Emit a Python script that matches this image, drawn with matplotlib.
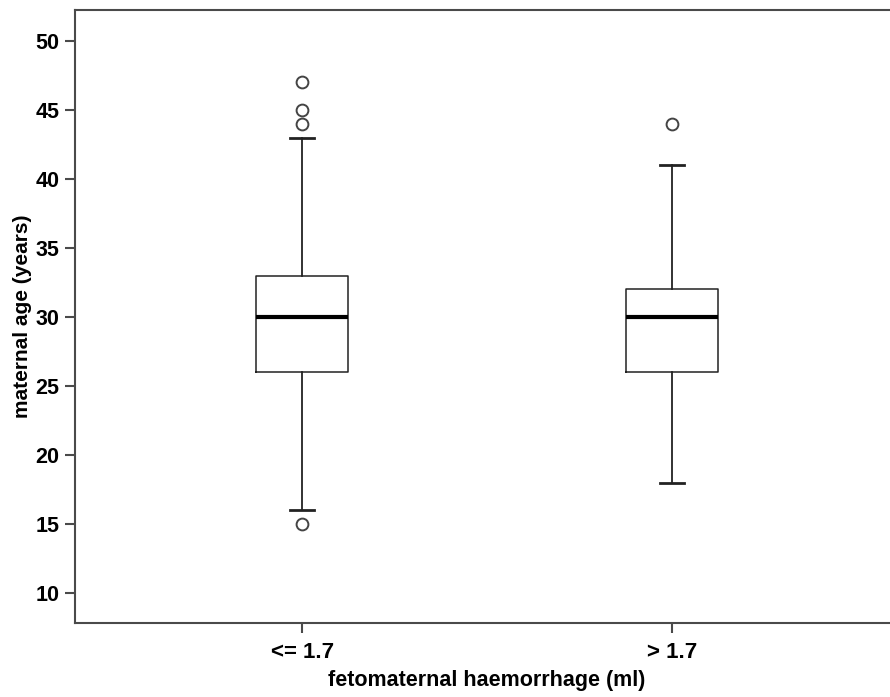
import matplotlib.pyplot as plt

plt.rcParams['font.family'] = ['Liberation Sans', 'DejaVu Sans']
plt.rcParams['font.weight'] = 'bold'

# group summaries: whiskers, quartiles, median, outliers
groups = ['<= 1.7', '> 1.7']
whislo = [16, 18]
q1 = [26, 26]
med = [30, 30]
q3 = [33, 32]
whishi = [43, 41]
fliers = [[44, 45, 47, 15], [44]]

stats = []
for i in range(len(groups)):
    stats.append(dict(label=groups[i], whislo=whislo[i], q1=q1[i], med=med[i],
                      q3=q3[i], whishi=whishi[i], fliers=fliers[i]))

fig = plt.figure(figsize=(8.9, 6.97), dpi=100)
# axes runs slightly past the right edge of the figure
ax = fig.add_axes([75 / 890, 1 - 623 / 697, 824 / 890, 613 / 697])

ax.bxp(stats, positions=[0, 1], widths=0.25, showfliers=True,
       boxprops=dict(color='#222222', linewidth=1.1),
       medianprops=dict(color='black', linewidth=3),
       whiskerprops=dict(color='#222222', linewidth=1.3),
       capprops=dict(color='#222222', linewidth=2),
       capwidths=0.065,
       flierprops=dict(marker='o', markerfacecolor='white', markeredgecolor='#444444',
                       markersize=8.5, markeredgewidth=1.4))

ax.set_xlim(-0.614, 1.614)
ax.set_ylim(7.83, 52.25)
ax.set_yticks([10, 15, 20, 25, 30, 35, 40, 45, 50])

for s in ax.spines.values():
    s.set_color('#4a4a4a')
    s.set_linewidth(1.5)
ax.tick_params(axis='both', colors='#4a4a4a', width=1.5, length=7, labelcolor='black')
ax.tick_params(axis='y', pad=4, labelsize=15.5)
ax.tick_params(axis='x', pad=7, labelsize=16)

ax.set_xlabel('fetomaternal haemorrhage (ml)', fontsize=15.5, fontweight='bold', labelpad=5)
ax.set_ylabel('maternal age (years)', fontsize=15, fontweight='bold', labelpad=3)

fig.savefig('out.png', dpi=100)
